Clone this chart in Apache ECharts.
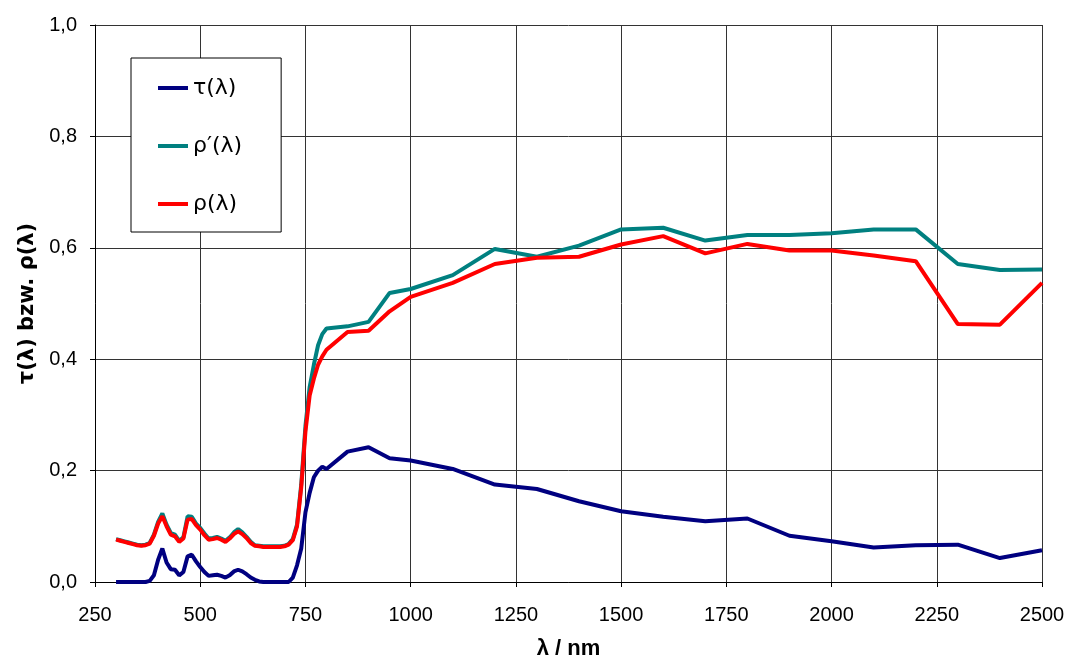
<!DOCTYPE html>
<html>
<head>
<meta charset="utf-8">
<script src="https://cdn.jsdelivr.net/npm/echarts@6/dist/echarts.min.js"></script>
<style>
html,body{margin:0;padding:0;background:#fff;}
#chart{width:1068px;height:659px;}
</style>
</head>
<body>
<div id="chart"></div>
<script>
// wavelengths (nm)
var wavelengths = [300,310,320,330,340,350,360,370,380,390,400,410,420,430,440,450,460,470,480,490,500,510,520,530,540,550,560,570,580,590,600,610,620,630,640,650,660,670,680,690,700,710,720,730,740,750,760,770,780,790,800,850,900,950,1000,1100,1200,1300,1400,1500,1600,1700,1800,1900,2000,2100,2200,2300,2400,2500];
// tau(lambda)
var tau = [0,0,0,0,0,0,0,0,0.002,0.012,0.040,0.060,0.035,0.023,0.022,0.012,0.018,0.046,0.049,0.037,0.027,0.018,0.011,0.012,0.013,0.011,0.008,0.012,0.019,0.022,0.019,0.014,0.008,0.004,0.001,0,0,0,0,0,0,0,0.008,0.030,0.060,0.125,0.160,0.188,0.200,0.207,0.203,0.234,0.242,0.222,0.218,0.203,0.175,0.167,0.145,0.127,0.117,0.109,0.114,0.083,0.073,0.062,0.066,0.067,0.043,0.057];
// rho'(lambda)
var rhoPrime = [0.077,0.075,0.073,0.071,0.069,0.067,0.066,0.067,0.070,0.085,0.108,0.123,0.103,0.088,0.085,0.074,0.080,0.118,0.117,0.105,0.097,0.087,0.078,0.079,0.081,0.078,0.074,0.080,0.089,0.095,0.089,0.081,0.072,0.066,0.065,0.064,0.064,0.064,0.064,0.064,0.065,0.068,0.077,0.103,0.175,0.280,0.350,0.390,0.425,0.445,0.455,0.459,0.467,0.519,0.526,0.551,0.598,0.584,0.604,0.633,0.636,0.613,0.623,0.623,0.626,0.633,0.633,0.571,0.560,0.561];
// rho(lambda)
var rho = [0.076,0.074,0.072,0.070,0.068,0.066,0.065,0.066,0.069,0.083,0.105,0.118,0.100,0.085,0.082,0.072,0.078,0.112,0.113,0.102,0.094,0.084,0.076,0.077,0.079,0.076,0.072,0.078,0.086,0.091,0.086,0.079,0.070,0.065,0.064,0.063,0.063,0.063,0.063,0.063,0.064,0.067,0.075,0.100,0.170,0.270,0.335,0.365,0.390,0.405,0.417,0.449,0.451,0.486,0.512,0.537,0.571,0.582,0.584,0.606,0.621,0.590,0.607,0.595,0.595,0.586,0.576,0.463,0.462,0.537];
var seriesNames = ['τ(λ)', 'ρ′(λ)', 'ρ(λ)'];
var seriesColors = ['#000080', '#008080', '#ff0000'];

function pairs(ys){ return wavelengths.map(function(x,i){ return [x, ys[i]]; }); }

var font = 'Liberation Sans, Arial, sans-serif';
var chart = echarts.init(document.getElementById('chart'), null, {renderer:'canvas'});
var allY = [tau, rhoPrime, rho];
chart.setOption({
  animation: false,
  backgroundColor: '#fff',
  grid: {left: 95, right: 26, top: 25, bottom: 77, containLabel: false, outerBoundsMode: 'none'},
  legend: {
    orient: 'vertical', left: 131, top: 58,
    padding: [19, 39, 17, 27],
    itemGap: 36, itemWidth: 30, itemHeight: 4,
    backgroundColor: '#fff', borderColor: '#000', borderWidth: 1,
    icon: 'rect',
    textStyle: {fontFamily: 'DejaVu Sans, sans-serif', fontSize: 22, color: '#000', lineHeight: 22},
    data: seriesNames
  },
  xAxis: {
    type: 'value', min: 250, max: 2500, interval: 250,
    name: 'λ / nm', nameLocation: 'middle', nameGap: 56,
    nameTextStyle: {fontFamily: font, fontSize: 22, fontWeight: 'bold', color: '#000'},
    axisLine: {show: true, lineStyle: {color: '#000', width: 1}},
    axisTick: {show: true, length: 5, lineStyle: {color: '#000'}},
    axisLabel: {fontFamily: font, fontSize: 20, color: '#000', margin: 23,
      formatter: function(v){ return String(v); }},
    splitLine: {show: true, lineStyle: {color: '#333', width: 1}}
  },
  yAxis: {
    type: 'value', min: 0, max: 1, interval: 0.2,
    name: 'τ(λ) bzw. ρ(λ)', nameLocation: 'middle', nameGap: 55,
    nameTextStyle: {fontFamily: 'DejaVu Sans, sans-serif', fontSize: 21, fontWeight: 'bold', color: '#000'},
    axisLine: {show: true, lineStyle: {color: '#000', width: 1}},
    axisTick: {show: true, length: 5, lineStyle: {color: '#000'}},
    axisLabel: {fontFamily: font, fontSize: 20, color: '#000', margin: 18,
      formatter: function(v){ return v.toFixed(1).replace('.', ','); }},
    splitLine: {show: true, lineStyle: {color: '#333', width: 1}}
  },
  series: seriesNames.map(function(n, i){
    return {
      name: n, type: 'line', data: pairs(allY[i]),
      showSymbol: false, symbol: 'none',
      lineStyle: {color: seriesColors[i], width: 4},
      itemStyle: {color: seriesColors[i]},
      z: 2 + i
    };
  })
});
</script>
</body>
</html>
